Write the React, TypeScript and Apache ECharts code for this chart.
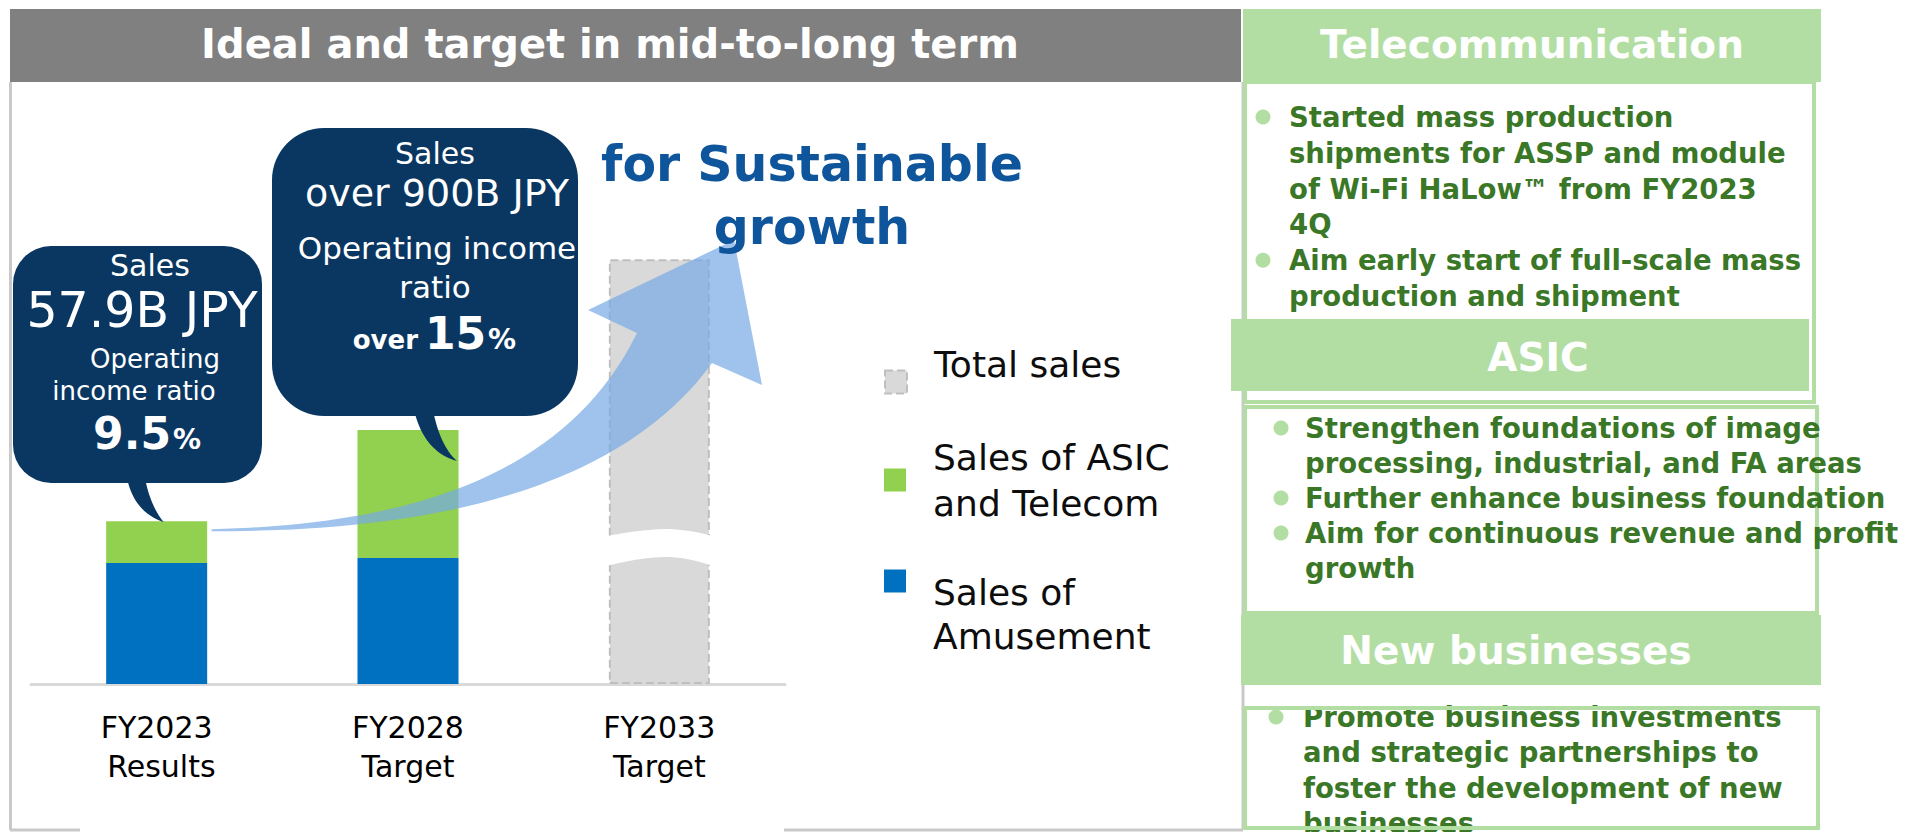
import React, { useEffect, useRef } from "react";
import * as echarts from "echarts";

const FONT = '"DejaVu Sans", Verdana, sans-serif';

// ---------- data ----------
const categories = ["FY2023\n Results", "FY2028\nTarget", "FY2033\nTarget"];
const amusementSales = [43.0, 44.8, null];
const asicTelecomSales = [14.9, 45.5, null];
const totalSales = [null, null, 151];
const legendNames = ["Total sales", "Sales of ASIC\nand Telecom", "Sales of\nAmusement"];
const yMax = 160;

const panelTitle = "Ideal and target in mid-to-long term";
const growthText = "for Sustainable\ngrowth";

const callout2023 = { sales: "Sales", amount: "57.9B JPY", label1: "Operating", label2: "income ratio", ratio: "9.5", pct: "%" };
const callout2028 = { sales: "Sales", amount: "over 900B JPY", label1: "Operating income", label2: "ratio", prefix: "over", ratio: "15", pct: "%" };

const telecomTitle = "Telecommunication";
const telecomLines = [
  { text: "Started mass production", bullet: true },
  { text: "shipments for ASSP and module", bullet: false },
  { text: "of Wi-Fi HaLow\u2122 from FY2023", bullet: false },
  { text: "4Q", bullet: false },
  { text: "Aim early start of full-scale mass", bullet: true },
  { text: "production and shipment", bullet: false },
];
const asicTitle = "ASIC";
const asicLines = [
  { text: "Strengthen foundations of image", bullet: true },
  { text: "processing, industrial, and FA areas", bullet: false },
  { text: "Further enhance business foundation", bullet: true },
  { text: "Aim for continuous revenue and profit", bullet: true },
  { text: "growth", bullet: false },
];
const newBizTitle = "New businesses";
const newBizLines = [
  { text: "Promote business investments", bullet: true },
  { text: "and strategic partnerships to", bullet: false },
  { text: "foster the development of new", bullet: false },
  { text: "businesses", bullet: false },
];

// ---------- colours ----------
const C_BLUE = "#0070c0";
const C_GREEN = "#92d050";
const C_TOTAL = "#d9d9d9";
const C_NAVY = "#0a3762";
const C_HEAD = "#b2dea3";
const C_BODY = "#3a7726";

// ---------- helpers ----------
type P = [number, number];
function cubicPts(p0: P, p1: P, p2: P, p3: P, n: number): P[] {
  const out: P[] = [];
  for (let i = 0; i <= n; i++) {
    const t = i / n, u = 1 - t;
    out.push([
      u * u * u * p0[0] + 3 * u * u * t * p1[0] + 3 * u * t * t * p2[0] + t * t * t * p3[0],
      u * u * u * p0[1] + 3 * u * u * t * p1[1] + 3 * u * t * t * p2[1] + t * t * t * p3[1],
    ]);
  }
  return out;
}
function quadPts(p0: P, p1: P, p2: P, n: number): P[] {
  const out: P[] = [];
  for (let i = 0; i <= n; i++) {
    const t = i / n, u = 1 - t;
    out.push([
      u * u * p0[0] + 2 * u * t * p1[0] + t * t * p2[0],
      u * u * p0[1] + 2 * u * t * p1[1] + t * t * p2[1],
    ]);
  }
  return out;
}
function txt(text: string, x: number, y: number, size: number, o: any = {}) {
  const align = o.align ?? "center";
  const va = o.va ?? "middle";
  return {
    type: "text",
    x,
    y,
    z: o.z ?? 20,
    silent: true,
    style: {
      text,
      fill: o.fill ?? "#ffffff",
      fontSize: size,
      fontWeight: o.bold ? "bold" : "normal",
      fontFamily: FONT,
      textAlign: align,
      align,
      textVerticalAlign: va,
      verticalAlign: va,
      lineHeight: o.lineHeight,
    },
  };
}

function legendFor(name: string, top: number, lineHeight: number, itemStyle: any, formatter?: (n: string) => string) {
  return {
    orient: "vertical",
    left: 884,
    top,
    padding: 0,
    itemWidth: 22,
    itemHeight: 23,
    selectedMode: false,
    formatter,
    textStyle: {
      fontSize: 36,
      fontFamily: FONT,
      color: "#0d0d0d",
      lineHeight,
      padding: [0, 0, 0, 22],
    },
    data: [{ name, icon: "rect", itemStyle }],
  };
}

function buildOption() {
  return {
    animation: false,
    backgroundColor: "#ffffff",
    grid: { left: 31, width: 754, top: 234, height: 450, containLabel: false },
    xAxis: {
      type: "category",
      data: categories,
      axisLine: { show: true, lineStyle: { color: "#d9d9d9", width: 3 } },
      axisTick: { show: false },
      axisLabel: {
        interval: 0,
        margin: 24,
        fontSize: 30,
        lineHeight: 39,
        fontFamily: FONT,
        color: "#000000",
      },
    },
    yAxis: {
      type: "value",
      min: 0,
      max: yMax,
      show: false,
      splitLine: { show: false },
    },
    legend: [
      legendFor(
        legendNames[0],
        346,
        36,
        { color: C_TOTAL, borderColor: "#bfbfbf", borderType: "dashed", borderWidth: 2 },
        (n: string) => n + "\n"
      ),
      legendFor(legendNames[1], 434, 46, { color: C_GREEN, borderWidth: 0 }),
      legendFor(
        legendNames[2],
        508,
        22,
        { color: C_BLUE, borderWidth: 0 },
        (n: string) => "\n\n\n" + n.replace("\n", "\n\n")
      ),
    ],
    series: [
      {
        name: legendNames[2],
        type: "bar",
        stack: "sales",
        barWidth: 101,
        data: amusementSales,
        itemStyle: { color: C_BLUE },
      },
      {
        name: legendNames[1],
        type: "bar",
        stack: "sales",
        barWidth: 101,
        data: asicTelecomSales,
        itemStyle: { color: C_GREEN },
      },
      {
        name: legendNames[0],
        type: "bar",
        stack: "sales",
        barWidth: 101,
        data: totalSales,
        itemStyle: { color: C_TOTAL, borderColor: "#bfbfbf", borderType: "dashed", borderWidth: 2 },
      },
    ],
  };
}

function buildGraphics(chart: any) {
  const g: any[] = [];
  const xOf = (i: number) => chart.convertToPixel({ xAxisIndex: 0 }, i) as number;
  const yOf = (v: number) => chart.convertToPixel({ yAxisIndex: 0 }, v) as number;

  // ---- left panel frame ----
  g.push({ type: "rect", z: 1, silent: true, shape: { x: 10, y: 9, width: 1231, height: 73 }, style: { fill: "#808080" } });
  g.push(txt(panelTitle, 610, 44, 40, { bold: true, z: 2 }));
  const frame = { stroke: "#c9c9c9", lineWidth: 3 };
  g.push({ type: "line", z: 1, silent: true, shape: { x1: 10.5, y1: 82, x2: 10.5, y2: 830 }, style: frame });
  g.push({ type: "line", z: 1, silent: true, shape: { x1: 10, y1: 830, x2: 80, y2: 830 }, style: frame });
  g.push({ type: "line", z: 1, silent: true, shape: { x1: 784, y1: 830, x2: 1243, y2: 830 }, style: frame });
  g.push({ type: "line", z: 1, silent: true, shape: { x1: 1243, y1: 82, x2: 1243, y2: 830 }, style: frame });

  // ---- break on total bar ----
  const cx3 = xOf(2);
  const L = cx3 - 56, R = cx3 + 56;
  const upper = [...quadPts([L, 537], [cx3 - 25, 530], [cx3 + 5, 529], 12), ...quadPts([cx3 + 5, 529], [cx3 + 30, 529], [R, 537], 12)];
  const lower = [...quadPts([L, 567], [cx3 - 25, 558], [cx3 + 5, 557], 12), ...quadPts([cx3 + 5, 557], [cx3 + 30, 557], [R, 567], 12)];
  g.push({ type: "polygon", z: 3, silent: true, shape: { points: [...upper, ...lower.reverse()] }, style: { fill: "#ffffff" } });

  // ---- growth arrow ----
  const cx1 = xOf(0);
  const top1 = yOf(amusementSales[0]! + asicTelecomSales[0]!);
  const tail: P = [cx1 + 55, top1 + 8];
  const upEdge = cubicPts(tail, [380, 525], [560, 490], [637, 333], 40);
  const lowEdge = cubicPts([tail[0], tail[1] + 2], [430, 532], [620, 490], [712, 363], 40);
  const arrowPts = [...upEdge, [588, 310], [734, 240], [762, 385], ...lowEdge.reverse()];
  g.push({ type: "polygon", z: 6, silent: true, shape: { points: arrowPts }, style: { fill: "rgba(118,170,228,0.7)" } });

  // ---- callout 2023 ----
  g.push({ type: "rect", z: 7, silent: true, shape: { x: 13, y: 246, width: 249, height: 237, r: 38 }, style: { fill: C_NAVY } });
  const tip1: P = [cx1 + 7, top1 + 1];
  const t1 = [...quadPts([127, 478], [134, 512], tip1, 16), ...quadPts(tip1, [150, 505], [145, 478], 16)];
  g.push({ type: "polygon", z: 7, silent: true, shape: { points: t1 }, style: { fill: C_NAVY } });
  g.push(txt(callout2023.sales, 150, 265, 30));
  g.push(txt(callout2023.amount, 142, 310, 49));
  g.push(txt(callout2023.label1, 155, 359, 26));
  g.push(txt(callout2023.label2, 134, 391, 26));
  g.push(txt(callout2023.ratio, 171, 433, 44, { bold: true, align: "right" }));
  g.push(txt(callout2023.pct, 173, 439, 28, { bold: true, align: "left" }));

  // ---- callout 2028 ----
  const cx2 = xOf(1);
  const top2 = yOf(amusementSales[1]! + asicTelecomSales[1]!);
  g.push({ type: "rect", z: 7, silent: true, shape: { x: 272, y: 128, width: 306, height: 288, r: 52 }, style: { fill: C_NAVY } });
  const tip2: P = [cx2 + 49, top2 + 31];
  const t2 = [...quadPts([414, 410], [424, 452], tip2, 16), ...quadPts(tip2, [440, 446], [433, 410], 16)];
  g.push({ type: "polygon", z: 7, silent: true, shape: { points: t2 }, style: { fill: C_NAVY } });
  g.push(txt(callout2028.sales, 435, 153, 30));
  g.push(txt(callout2028.amount, 437, 193, 38));
  g.push(txt(callout2028.label1, 437, 248, 31));
  g.push(txt(callout2028.label2, 435, 287, 31));
  g.push(txt(callout2028.prefix, 418, 340, 26, { bold: true, align: "right" }));
  g.push(txt(callout2028.ratio, 425, 333, 44, { bold: true, align: "left" }));
  g.push(txt(callout2028.pct, 488, 339, 28, { bold: true, align: "left" }));

  // ---- slogan ----
  g.push(txt(growthText, 812, 196, 49, { bold: true, fill: "#0f559b", lineHeight: 63, z: 9 }));

  // ---- right panel ----
  const boxStroke = { stroke: C_HEAD, lineWidth: 4 };
  g.push({ type: "rect", z: 10, silent: true, shape: { x: 1245, y: 82, width: 569, height: 320 }, style: { fill: "#ffffff", ...boxStroke } });
  g.push({ type: "rect", z: 10, silent: true, shape: { x: 1245, y: 407, width: 572, height: 206 }, style: { fill: "#ffffff", ...boxStroke } });
  g.push({ type: "rect", z: 10, silent: true, shape: { x: 1245, y: 708, width: 573, height: 124 }, style: { fill: "#ffffff" } });
  g.push({ type: "rect", z: 14, silent: true, shape: { x: 1245, y: 708, width: 573, height: 120 }, style: { fill: "none", ...boxStroke } });

  g.push({ type: "rect", z: 12, silent: true, shape: { x: 1243, y: 9, width: 578, height: 73 }, style: { fill: C_HEAD } });
  g.push({ type: "rect", z: 12, silent: true, shape: { x: 1231, y: 319, width: 578, height: 72 }, style: { fill: C_HEAD } });
  g.push({ type: "rect", z: 12, silent: true, shape: { x: 1241, y: 615, width: 580, height: 70 }, style: { fill: C_HEAD } });
  g.push(txt(telecomTitle, 1532, 44, 39, { bold: true, z: 13 }));
  g.push(txt(asicTitle, 1538, 357, 39, { bold: true, z: 13 }));
  g.push(txt(newBizTitle, 1516, 650, 39, { bold: true, z: 13 }));

  const bodyBlock = (lines: { text: string; bullet: boolean }[], x: number, bx: number, y0: number, step: number) => {
    lines.forEach((ln, i) => {
      const y = y0 + i * step;
      g.push(txt(ln.text, x, y, 27.5, { bold: true, fill: C_BODY, align: "left", z: 13 }));
      if (ln.bullet) {
        g.push({ type: "circle", z: 13, silent: true, shape: { cx: bx, cy: y, r: 7.5 }, style: { fill: C_HEAD } });
      }
    });
  };
  bodyBlock(telecomLines, 1289, 1263, 117, 35.8);
  bodyBlock(asicLines, 1305, 1281, 428, 35);
  bodyBlock(newBizLines, 1303, 1276, 717, 35.3);

  return g;
}

export default function App() {
  const ref = useRef<HTMLDivElement>(null);
  useEffect(() => {
    document.body.style.margin = "0";
    const chart = echarts.init(ref.current!, null, { renderer: "svg" });
    chart.setOption(buildOption() as any);
    chart.setOption({ graphic: { elements: buildGraphics(chart) } } as any);
    return () => chart.dispose();
  }, []);
  return (
    <div
      ref={ref}
      style={{ position: "fixed", left: 0, top: 0, width: 1921, height: 832, background: "#ffffff" }}
    />
  );
}
